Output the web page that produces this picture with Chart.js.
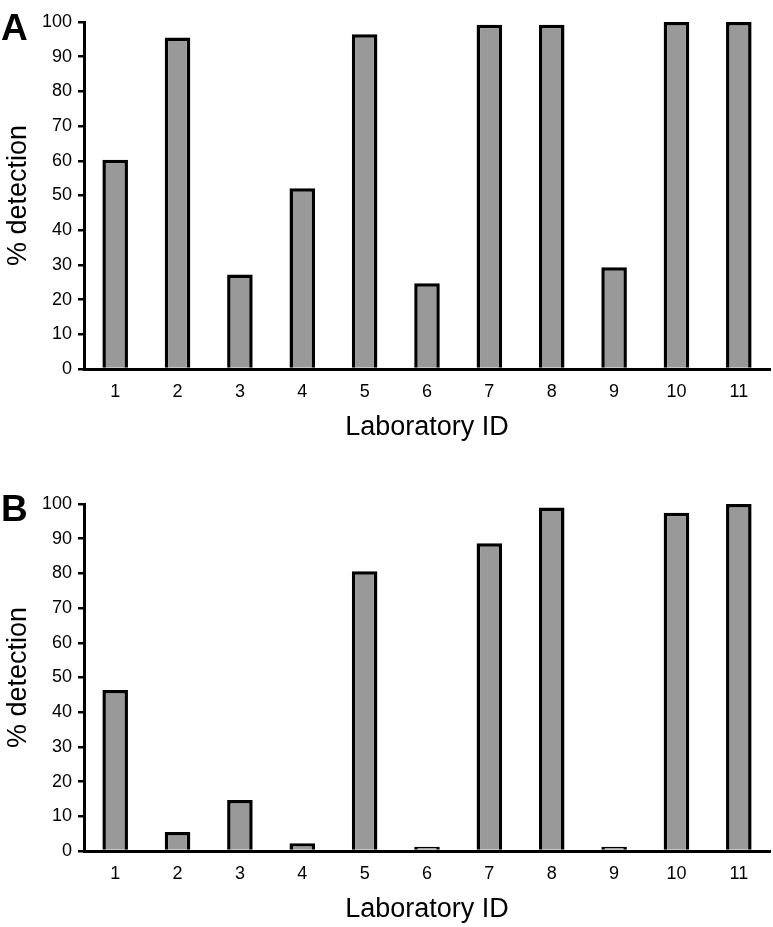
<!DOCTYPE html>
<html>
<head>
<meta charset="utf-8">
<script src="https://cdn.jsdelivr.net/npm/chart.js@4"></script>
<style>
  body { margin: 0; background: #fff; }
  .panel { position: absolute; left: 0; width: 773px; height: 445px; }
  .letter { position: absolute; left: 1px; font: bold 37px "Liberation Sans", Arial, sans-serif; color: #000; line-height: 37px; }
</style>
</head>
<body>
<div class="panel" style="top:0"><canvas id="chartA" width="773" height="445"></canvas></div>
<div class="letter" style="top:9px">A</div>
<div class="panel" style="top:482px"><canvas id="chartB" width="773" height="445"></canvas></div>
<div class="letter" style="top:490px">B</div>

<script>
// data
const labIds = ['1', '2', '3', '4', '5', '6', '7', '8', '9', '10', '11'];
const detectionA = [60.3, 95.5, 27.2, 52.1, 96.5, 24.7, 99.2, 99.2, 29.3, 100, 100];
const detectionB = [46.4, 5.5, 14.7, 2.2, 80.6, 1.2, 88.7, 99, 1.2, 97.5, 100];
const yTicks = [0, 10, 20, 30, 40, 50, 60, 70, 80, 90, 100];

const fontFamily = '"Liberation Sans", Arial, sans-serif';

function makeChart(canvasId, values) {
  const config = {
    type: 'bar',
    data: {
      labels: labIds,
      datasets: [{
        label: '% detection',
        data: values,
        backgroundColor: '#999999',
        borderColor: '#000000',
        borderWidth: 3.5,
        categoryPercentage: 1,
        barPercentage: 0.41
      }]
    },
    options: {
      responsive: false,
      animation: false,
      layout: { padding: { left: 0, right: 3, top: 22, bottom: 0 } },
      plugins: { legend: { display: false }, tooltip: { enabled: false } },
      scales: {
        x: {
          z: 1,
          grid: { display: false, drawTicks: false },
          border: { display: true, color: '#000', width: 3 },
          ticks: { color: '#000', padding: 12, font: { family: fontFamily, size: 18 } },
          title: {
            display: true, text: 'Laboratory ID', color: '#000',
            font: { family: fontFamily, size: 27 }, padding: { top: 0, bottom: 1 }
          },
          afterFit: function (scale) { scale.height = 76; }
        },
        y: {
          z: 1,
          min: 0,
          max: 100,
          afterBuildTicks: function (scale) {
            scale.ticks = yTicks.map(v => ({ value: v }));
          },
          grid: { drawOnChartArea: false, drawTicks: true, tickLength: 6, tickColor: '#000', tickWidth: 2.5, lineWidth: 2.5, color: '#000' },
          border: { display: true, color: '#000', width: 3 },
          ticks: { color: '#000', padding: 6, font: { family: fontFamily, size: 18 } },
          title: {
            display: true, text: '% detection', color: '#000',
            font: { family: fontFamily, size: 27 }, padding: { top: 2, bottom: 0 }
          },
          afterFit: function (scale) { scale.width = 84; }
        }
      }
    }
  };
  return new Chart(document.getElementById(canvasId), config);
}

const chartA = makeChart('chartA', detectionA);
const chartB = makeChart('chartB', detectionB);
</script>
</body>
</html>
